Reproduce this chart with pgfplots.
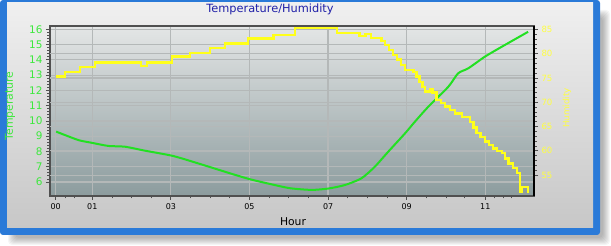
\documentclass[border=0pt]{standalone}
\usepackage{pgfplots}
\pgfplotsset{compat=1.18}
\usepackage{fontspec}
\setmainfont{DejaVu Sans}
\definecolor{tgreen}{HTML}{22E022}
\definecolor{lgreen}{HTML}{3DE83D}
\definecolor{hyellow}{HTML}{FFFF1A}
\definecolor{ylab}{HTML}{FFFF40}
\definecolor{tblue}{HTML}{2020A8}
\definecolor{frameblue}{HTML}{2A7AD8}
\definecolor{bgtop}{HTML}{E4E6E6}
\definecolor{bgbot}{HTML}{8C9C9E}
\definecolor{gridc}{HTML}{B4B8B8}
\definecolor{vgridc}{HTML}{A8ACAC}
\definecolor{axc}{HTML}{505050}
\begin{document}
\begin{tikzpicture}
\useasboundingbox (0bp,0bp) rectangle (611bp,246bp);
\fill[white] (0bp,0bp) rectangle (611bp,246bp);
% shadow
\foreach \k in {0,...,7}{
  \fill[black,opacity=0.04,rounded corners=4bp] (8bp+\k bp,1bp+\k bp) rectangle (610bp-\k bp,236bp-\k bp);
}
% frame
\fill[frameblue,rounded corners=3bp] (0bp,11bp) rectangle (600bp,246bp);
\shade[top color=black!6,bottom color=black!22] (7bp,18bp) rectangle (593bp,243bp);

\begin{axis}[
  at={(50bp,50bp)}, anchor=south west,
  scale only axis, width=484bp, height=170bp,
  xmin=-0.076, xmax=12.24, ymin=5.08, ymax=16.22,
  axis background/.style={top color=bgtop, bottom color=bgbot},
  axis line style={draw=axc, line width=1.4bp},
  xtick={0.07,1,3,5,7,9,11},
  xticklabels={00,01,03,05,07,09,11},
  minor xtick={0.31,0.54,1.5,2,2.5,3.5,4,4.5,5.5,6,6.5,7.5,8,8.5,9.5,10,10.48,11.23,11.45,11.67},
  ytick={6,...,16},
  minor y tick num=4,
  xtick pos=bottom, ytick pos=left,
  tick align=outside,
  major tick length=4bp, minor tick length=2.5bp,
  tick style={draw=axc, line width=0.8bp},
  xmajorgrids, ymajorgrids,
  grid style={draw=gridc, line width=1.2bp},
  extra y ticks={6.449,8.040,9.631,11.223,12.814,14.405},
  extra y tick labels={},
  extra tick style={grid=major, major tick length=0pt},
  /pgf/number format/assume math mode=true,
  yticklabel style={text=lgreen, font=\fontsize{10.5}{12}\selectfont},
  xticklabel style={text=black, font=\fontsize{8}{9}\selectfont},
  title={Temperature/Humidity},
  title style={at={(axis description cs:0.4545,1.065)}, anchor=center, text=tblue, font=\fontsize{11.4}{13}\selectfont},
  xlabel={Hour},
  xlabel style={at={(axis description cs:0.502,-0.153)}, anchor=center, font=\fontsize{10.8}{12}\selectfont},
  ylabel={Temperature},
  ylabel style={at={(axis description cs:-0.0826,0.529)}, anchor=center, text=lgreen, font=\fontsize{10.9}{12}\selectfont},
]
\addplot[tgreen, line width=2bp, smooth, tension=0.4] coordinates {
(0.08,9.30) (0.64,8.75) (0.98,8.57) (1.41,8.36) (1.83,8.31) (2.34,8.05)
(3.06,7.70) (3.74,7.18) (4.50,6.57) (5.01,6.18) (5.52,5.87) (6.03,5.59)
(6.58,5.48) (7.01,5.57) (7.43,5.80) (7.85,6.24) (8.19,7.00) (8.53,7.98)
(8.96,9.19) (9.21,9.95) (9.55,10.93) (10.06,12.24) (10.31,13.12) (10.57,13.45)
(10.99,14.21) (11.42,14.86) (12.09,15.84)
};
\end{axis}

\begin{axis}[
  at={(50bp,50bp)}, anchor=south west,
  scale only axis, width=484bp, height=170bp,
  xmin=-0.076, xmax=12.24, ymin=50.7, ymax=85.7,
  hide x axis,
  axis y line*=right,
  axis line style={draw=black, line width=1.4bp},
  ytick={55,60,...,85},
  minor y tick num=4,
  tick align=outside,
  major tick length=4bp, minor tick length=2.5bp,
  tick style={draw=axc, line width=0.8bp},
  /pgf/number format/assume math mode=true,
  yticklabel style={text=ylab, font=\fontsize{8.6}{10}\selectfont},
  ylabel={Humidity},
  ylabel style={at={(axis description cs:1.068,0.518)}, anchor=center, text=ylab, font=\fontsize{8.8}{10}\selectfont},
]
\addplot[hyellow, line width=2.3bp, const plot] coordinates {
(0.07,75.3) (0.31,76.2) (0.69,77.3) (1.07,78.2) (2.24,77.4) (2.40,78.2)
(3.02,79.4) (3.49,80.1) (4.00,81.1) (4.38,82.1) (4.97,83.1) (5.61,83.8)
(6.16,85.3) (7.22,84.3) (7.80,83.6) (7.95,84.0) (8.10,83.3) (8.36,82.6)
(8.45,81.8) (8.55,80.8) (8.65,79.8) (8.75,78.8) (8.85,77.6) (8.96,76.6)
(9.17,76.3) (9.25,75.3) (9.33,74.2) (9.40,73.2) (9.47,72.2) (9.60,72.8)
(9.66,72.0) (9.76,70.5) (9.87,69.8) (9.97,69.1) (10.10,68.4) (10.23,67.7)
(10.40,67.0) (10.62,66.0) (10.70,64.8) (10.78,63.6) (10.88,62.8) (10.99,61.9)
(11.10,61.2) (11.20,60.5) (11.30,59.9) (11.42,59.5) (11.50,58.4) (11.59,57.4)
(11.70,56.4) (11.80,55.4) (11.88,51.6) (11.93,52.5) (12.05,52.5) (12.09,51.4)
};
\end{axis}
\end{tikzpicture}
\end{document}
